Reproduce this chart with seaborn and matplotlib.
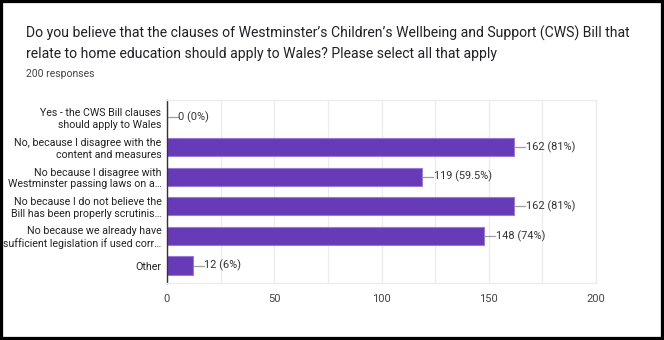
import matplotlib
matplotlib.use("Agg")
import matplotlib.pyplot as plt
import seaborn as sns
import pandas as pd
from matplotlib.patches import Rectangle

categories = [
    "Yes - the CWS Bill clauses\nshould apply to Wales",
    "No, because I disagree with the\ncontent and measures",
    "No because I disagree with\nWestminster passing laws on a…",
    "No because I do not believe the\nBill has been properly scrutinis…",
    "No because we already have\nsufficient legislation if used corr…",
    "Other",
]
counts = [0, 162, 119, 162, 148, 12]
percent_labels = ["0%", "81%", "59.5%", "81%", "74%", "6%"]
x_ticks = [0, 50, 100, 150, 200]

title = ("Do you believe that the clauses of Westminster\u2019s Children\u2019s Wellbeing and Support (CWS) Bill that\n"
         "relate to home education should apply to Wales? Please select all that apply")
subtitle = "200 responses"

df = pd.DataFrame({"answer": categories, "count": counts})

sns.set_theme(style="white")
plt.rcParams["font.family"] = ["Roboto", "DejaVu Sans"]

W, H = 664, 340
fig = plt.figure(figsize=(W / 100, H / 100), dpi=100)
ax = fig.add_axes([167 / W, 1 - 283 / H, (596 - 167) / W, (283 - 100) / H])

purple = "#673ab7"
sns.barplot(data=df, x="count", y="answer", orient="h", color=purple,
            saturation=1, width=0.62, edgecolor="#9a7ad6", linewidth=0.8, ax=ax)

ax.set_xlim(0, 200)
ax.set_xticks(x_ticks)
ax.set_xticks([25, 75, 125, 175], minor=True)
ax.grid(axis="x", which="both", color="#ececec", linewidth=0.9)
ax.set_axisbelow(True)
ax.set_xlabel("")
ax.set_ylabel("")
ax.tick_params(axis="x", which="both", length=0, pad=8, labelsize=8.0, labelcolor="#444444")
ax.tick_params(axis="y", length=0, pad=4, labelsize=7.7, labelcolor="#222222")
for lbl in ax.get_yticklabels():
    lbl.set_horizontalalignment("right")
    lbl.set_linespacing(1.2)

for side in ("top", "right", "bottom"):
    ax.spines[side].set_color("#ececec")
    ax.spines[side].set_linewidth(0.9)
ax.spines["left"].set_color("#333333")
ax.spines["left"].set_linewidth(1.0)

# value labels with short leader lines
px = 200 / (596 - 167)
for i, (c, p) in enumerate(zip(counts, percent_labels)):
    x0 = c + 1 * px
    x1 = c + 11 * px
    ax.plot([x0, x1], [i, i], color="#9e9e9e", linewidth=0.9, clip_on=False)
    ax.text(x1 + 0.5 * px, i, f"{c} ({p})", va="center", ha="left",
            fontsize=7.9, color="#333333", clip_on=False)

fig.text(26 / W, 1 - 43.5 / H, title, fontsize=10.1, color="#202124",
         va="center", ha="left", linespacing=1.55)
fig.text(26 / W, 1 - 74 / H, subtitle, fontsize=7.5, color="#444444",
         va="center", ha="left")

# black frame around the whole image
fig.patches.append(Rectangle((0, 0), 1, 1, transform=fig.transFigure,
                             fill=False, edgecolor="black", linewidth=4.5))

fig.savefig("out.png", dpi=100)
